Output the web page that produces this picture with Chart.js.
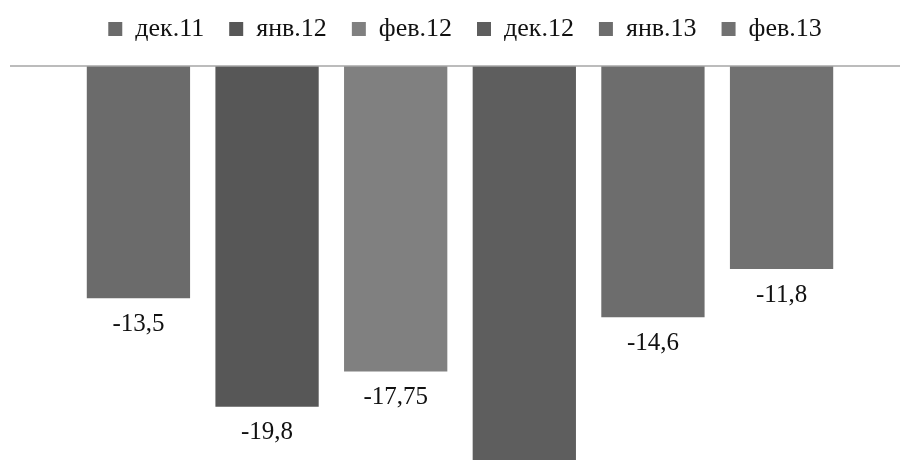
<!DOCTYPE html>
<html>
<head>
<meta charset="utf-8">
<script src="https://cdn.jsdelivr.net/npm/chart.js@4"></script>
<style>
    body { margin: 0; background: #fff; }
    #wrap { width: 900px; height: 460px; }
</style>
</head>
<body>
<div id="wrap"><canvas id="myChart"></canvas></div>
<script>
// months (one series each, as in the legend)
const seriesNames = ["дек.11", "янв.12", "фев.12", "дек.12", "янв.13", "фев.13"];
const seriesValues = [-13.5, -19.8, -17.75, -25, -14.6, -11.8];
const seriesColors = ["#6b6b6b", "#575757", "#808080", "#5e5e5e", "#6d6d6d", "#717171"];
const categories = [""];

const fontName = "'Liberation Serif', 'Times New Roman', serif";

let datasets = [];
for (let i = 0; i < seriesNames.length; i++) {
    datasets.push({
        label: seriesNames[i],
        data: [seriesValues[i]],
        backgroundColor: seriesColors[i],
        borderWidth: 0,
        barPercentage: 0.803,
        categoryPercentage: 0.877
    });
}

// legend needs more room below it than chart.js gives by default
const legendSpace = {
    id: 'legendSpace',
    beforeInit(chart) {
        const legend = chart.legend;
        const fit = legend.fit;
        legend.fit = function () {
            fit.call(this);
            this.height = 66;
        };
    },
    afterLayout(chart) {
        chart.legend.top -= 9;
        chart.legend.bottom -= 9;
        chart.legend.left += 5;
        chart.legend.right += 5;
    }
};

// zero line + values under the bars
const zeroAndValues = {
    id: 'zeroAndValues',
    afterDatasetsDraw(chart) {
        let ctx = chart.ctx;
        let y0 = chart.scales.y.getPixelForValue(0);
        ctx.save();
        ctx.strokeStyle = "#a6a6a6";
        ctx.lineWidth = 1.5;
        ctx.beginPath();
        ctx.moveTo(10, y0);
        ctx.lineTo(chart.width, y0);
        ctx.stroke();

        ctx.fillStyle = "#111";
        ctx.font = "25px " + fontName;
        ctx.textAlign = "center";
        ctx.textBaseline = "middle";
        chart.data.datasets.forEach(function (ds, i) {
            let bar = chart.getDatasetMeta(i).data[0];
            let txt = String(ds.data[0]).replace(".", ",");
            ctx.fillText(txt, bar.x, bar.y + 26);
        });
        ctx.restore();
    }
};

let canvas = document.getElementById("myChart").getContext("2d");
let myChart = new Chart(canvas, {
    type: 'bar',
    data: {
        labels: categories,
        datasets: datasets
    },
    options: {
        responsive: true,
        maintainAspectRatio: false,
        animation: false,
        layout: { padding: { left: 20, right: 0, top: 0, bottom: 0 } },
        scales: {
            x: { display: false },
            y: { display: false, min: -22.9, max: 0 }
        },
        plugins: {
            legend: {
                position: 'top',
                labels: {
                    boxWidth: 14,
                    boxHeight: 14,
                    padding: 25,
                    color: "#111",
                    font: { family: fontName, size: 26 }
                }
            },
            tooltip: { enabled: false }
        }
    },
    plugins: [legendSpace, zeroAndValues]
});
</script>
</body>
</html>
